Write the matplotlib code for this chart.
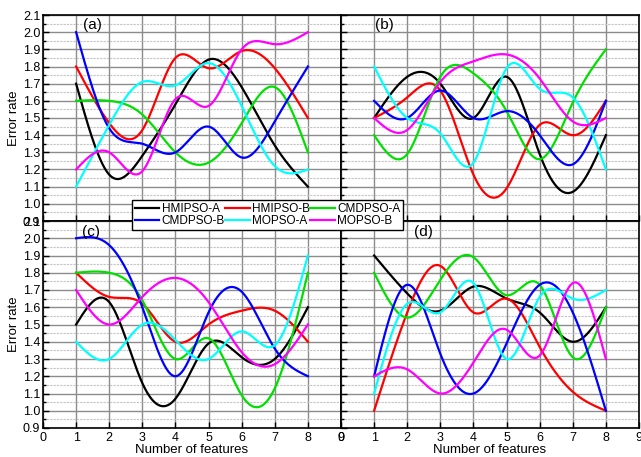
import numpy as np
import matplotlib
matplotlib.use("Agg")
import matplotlib.pyplot as plt
from matplotlib.ticker import MultipleLocator
from matplotlib.lines import Line2D

plt.rcParams['font.family'] = ['Liberation Sans', 'DejaVu Sans']

features = [1, 2, 3, 4, 5, 6, 7, 8]
series_names = ["HMIPSO-A", "HMIPSO-B", "CMDPSO-A", "CMDPSO-B", "MOPSO-A", "MOPSO-B"]
colors = ["#000000", "#ff0000", "#00e000", "#0000ff", "#00ffff", "#ff00ff"]

# panel (a)
a_hmipso_a = [1.70, 1.17, 1.28, 1.58, 1.84, 1.68, 1.34, 1.10]
a_hmipso_b = [1.80, 1.47, 1.43, 1.85, 1.79, 1.89, 1.79, 1.50]
a_cmdpso_a = [1.60, 1.60, 1.52, 1.30, 1.24, 1.47, 1.68, 1.30]
a_cmdpso_b = [2.00, 1.44, 1.35, 1.30, 1.45, 1.27, 1.48, 1.80]
a_mopso_a = [1.10, 1.46, 1.71, 1.69, 1.82, 1.57, 1.22, 1.20]
a_mopso_b = [1.20, 1.30, 1.19, 1.61, 1.57, 1.90, 1.93, 2.00]

# panel (b)
b_hmipso_a = [1.50, 1.74, 1.70, 1.50, 1.74, 1.29, 1.07, 1.40]
b_hmipso_b = [1.50, 1.62, 1.66, 1.17, 1.09, 1.46, 1.40, 1.60]
b_cmdpso_a = [1.40, 1.29, 1.74, 1.76, 1.54, 1.26, 1.59, 1.90]
b_cmdpso_b = [1.60, 1.50, 1.66, 1.50, 1.54, 1.40, 1.23, 1.60]
b_mopso_a = [1.80, 1.50, 1.41, 1.24, 1.79, 1.67, 1.62, 1.20]
b_mopso_b = [1.50, 1.43, 1.71, 1.83, 1.87, 1.73, 1.48, 1.50]

# panel (c)
c_hmipso_a = [1.50, 1.63, 1.16, 1.07, 1.39, 1.31, 1.30, 1.60]
c_hmipso_b = [1.80, 1.66, 1.62, 1.40, 1.50, 1.58, 1.58, 1.40]
c_cmdpso_a = [1.80, 1.80, 1.64, 1.30, 1.42, 1.09, 1.13, 1.80]
c_cmdpso_b = [2.00, 1.96, 1.60, 1.20, 1.57, 1.69, 1.36, 1.20]
c_mopso_a = [1.40, 1.30, 1.50, 1.41, 1.30, 1.46, 1.38, 1.90]
c_mopso_b = [1.70, 1.50, 1.66, 1.77, 1.63, 1.34, 1.27, 1.50]

# panel (d)
d_hmipso_a = [1.90, 1.68, 1.58, 1.72, 1.65, 1.57, 1.40, 1.60]
d_hmipso_b = [1.00, 1.57, 1.84, 1.57, 1.65, 1.37, 1.11, 1.00]
d_cmdpso_a = [1.80, 1.54, 1.76, 1.89, 1.67, 1.73, 1.31, 1.60]
d_cmdpso_b = [1.20, 1.73, 1.33, 1.10, 1.39, 1.73, 1.57, 1.00]
d_mopso_a = [1.10, 1.62, 1.57, 1.74, 1.30, 1.66, 1.65, 1.70]
d_mopso_b = [1.20, 1.24, 1.10, 1.28, 1.47, 1.32, 1.74, 1.30]

panels = {
    "(a)": [a_hmipso_a, a_hmipso_b, a_cmdpso_a, a_cmdpso_b, a_mopso_a, a_mopso_b],
    "(b)": [b_hmipso_a, b_hmipso_b, b_cmdpso_a, b_cmdpso_b, b_mopso_a, b_mopso_b],
    "(c)": [c_hmipso_a, c_hmipso_b, c_cmdpso_a, c_cmdpso_b, c_mopso_a, c_mopso_b],
    "(d)": [d_hmipso_a, d_hmipso_b, d_cmdpso_a, d_cmdpso_b, d_mopso_a, d_mopso_b],
}
label_pos = {"(a)": (1.2, 2.08), "(b)": (1.03, 2.08), "(c)": (1.17, 2.075), "(d)": (2.2, 2.075)}


def natural_spline(x, y, n=300):
    x = np.asarray(x, float)
    y = np.asarray(y, float)
    m = len(x)
    h = np.diff(x)
    A = np.zeros((m, m))
    r = np.zeros(m)
    A[0, 0] = 1
    A[-1, -1] = 1
    for i in range(1, m - 1):
        A[i, i - 1] = h[i - 1]
        A[i, i] = 2 * (h[i - 1] + h[i])
        A[i, i + 1] = h[i]
        r[i] = 6 * ((y[i + 1] - y[i]) / h[i] - (y[i] - y[i - 1]) / h[i - 1])
    M = np.linalg.solve(A, r)
    xs = np.linspace(x[0], x[-1], n)
    idx = np.clip(np.searchsorted(x, xs) - 1, 0, m - 2)
    x0, x1 = x[idx], x[idx + 1]
    hh = x1 - x0
    t0 = x1 - xs
    t1 = xs - x0
    ys = (M[idx] * t0 ** 3 / (6 * hh) + M[idx + 1] * t1 ** 3 / (6 * hh)
          + (y[idx] / hh - M[idx] * hh / 6) * t0
          + (y[idx + 1] / hh - M[idx + 1] * hh / 6) * t1)
    return xs, ys


fig = plt.figure(figsize=(6.41, 4.57), dpi=100)
L, M_, R = 43 / 641, 341 / 641, 639 / 641
T, Mid, B = 1 - 15 / 457, 1 - 221 / 457, 1 - 428 / 457
rects = {
    "(a)": [L, Mid, M_ - L, T - Mid],
    "(b)": [M_, Mid, R - M_, T - Mid],
    "(c)": [L, B, M_ - L, Mid - B],
    "(d)": [M_, B, R - M_, Mid - B],
}

for key, data in panels.items():
    ax = fig.add_axes(rects[key])
    ax.set_xlim(0, 9)
    ax.set_ylim(0.9, 2.1)
    ax.xaxis.set_major_locator(MultipleLocator(1))
    ax.yaxis.set_major_locator(MultipleLocator(0.1))
    ax.yaxis.set_minor_locator(MultipleLocator(0.05))
    ax.grid(True, which='major', color='#8c8c8c', lw=1.0)
    ax.grid(True, which='minor', axis='y', color='#c4c4c4', lw=0.8, ls=(0, (2, 1)))
    ax.set_axisbelow(True)
    for vals, col in zip(data, colors):
        xs, ys = natural_spline(features, vals)
        ax.plot(xs, ys, color=col, lw=1.6, zorder=3)
    ax.tick_params(direction='in', which='both', labelsize=9, length=4, width=1)
    ax.tick_params(which='minor', length=2)
    for s in ax.spines.values():
        s.set_linewidth(1.2)
    lx, ly = label_pos[key]
    ax.text(lx, ly, key, fontsize=11, va='top', ha='left')
    if key in ("(a)", "(c)"):
        ax.yaxis.set_major_formatter(plt.FormatStrFormatter('%.1f'))
        ax.set_ylabel("Error rate", fontsize=9.5, labelpad=2)
    else:
        ax.tick_params(labelleft=False)
    if key in ("(c)", "(d)"):
        ax.set_xlabel("Number of features", fontsize=9.5, labelpad=0)
    else:
        ax.tick_params(labelbottom=False)
    ax.tick_params(axis='x', pad=3)
    ax.tick_params(axis='y', pad=2)

handles = [Line2D([0], [0], color=c, lw=1.6) for c in colors]
order = [0, 3, 1, 4, 2, 5]
leg = fig.legend([handles[i] for i in order], [series_names[i] for i in order],
                 ncol=3, loc='center', bbox_to_anchor=(267.5 / 641, 1 - 215 / 457),
                 fontsize=8.5, frameon=True, fancybox=False, edgecolor='black',
                 framealpha=1, handlelength=2.1, handletextpad=0.2, columnspacing=0.0,
                 labelspacing=0.05, borderpad=0.2, borderaxespad=0)
leg.get_frame().set_linewidth(1.0)
leg.set_zorder(10)

fig.savefig("out.png", dpi=100)
